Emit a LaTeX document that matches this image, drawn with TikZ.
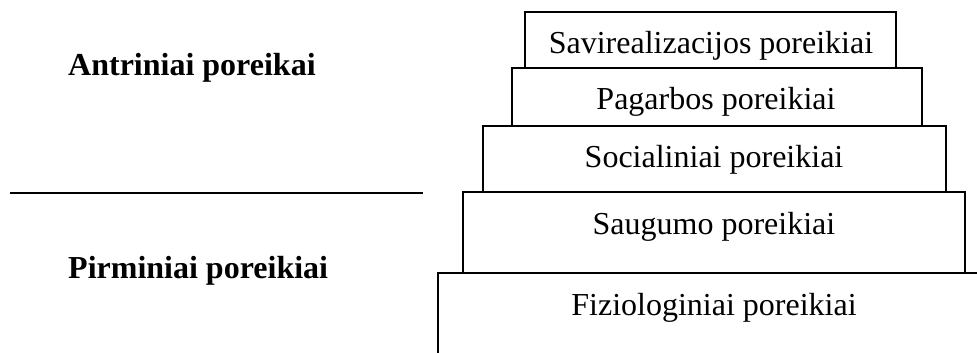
\documentclass[tikz,border=0pt]{standalone}
\usepackage{fontspec}
\setmainfont{Liberation Serif}
\begin{document}
\begin{tikzpicture}[x=1pt,y=-1pt,
  boxline/.style={draw=black,line width=1.8pt},
  lvl/.style={anchor=base,font=\fontsize{32}{38}\selectfont,inner sep=0pt},
  side/.style={anchor=base west,font=\fontsize{32}{38}\selectfont\bfseries,inner sep=0pt}]
\useasboundingbox (0,0) rectangle (977,353);
% boxes
\draw[boxline] (438,353) -- (438,273) -- (977,273);
\draw[boxline] (463,192) rectangle (965,273);
\draw[boxline] (483,126) rectangle (946,192);
\draw[boxline] (512,68) rectangle (922,126);
\draw[boxline] (525,12) rectangle (896,68);
% level texts
\node[lvl] (l1) at (711,53) {Savirealizacijos poreikiai};
\node[lvl] (l2) at (716,109) {Pagarbos poreikiai};
\node[lvl] (l3) at (714,167) {Socialiniai poreikiai};
\node[lvl] (l4) at (714,234) {Saugumo poreikiai};
\node[lvl] (l5) at (714,315) {Fiziologiniai poreikiai};
% side labels
\node[side] (ant) at (68,76) {Antriniai poreikai};
\node[side] (pir) at (68,278) {Pirminiai poreikiai};
\coordinate (d1) at (10,193);
\coordinate (d2) at (423,193);
\draw[line width=1.8pt] (d1) -- (d2);
\end{tikzpicture}
\end{document}
